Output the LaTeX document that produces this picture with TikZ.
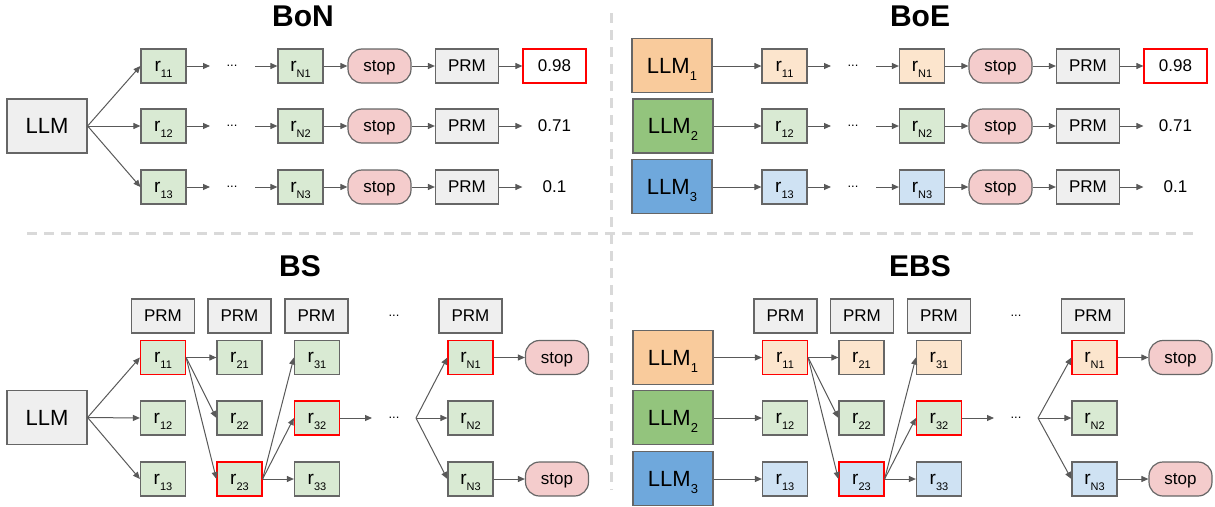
\documentclass[tikz,border=0pt]{standalone}
\usepackage{fontspec}
\setmainfont{Liberation Sans}
\usetikzlibrary{arrows.meta}
\definecolor{bord}{HTML}{666666}
\definecolor{arrc}{HTML}{595959}
\definecolor{gfill}{HTML}{D9EAD3}
\definecolor{ofill}{HTML}{FCE5CD}
\definecolor{bfill}{HTML}{CFE2F3}
\definecolor{lone}{HTML}{F9CB9C}
\definecolor{ltwo}{HTML}{93C47D}
\definecolor{lthree}{HTML}{6FA8DC}
\definecolor{sfill}{HTML}{F4CCCC}
\definecolor{pfill}{HTML}{EFEFEF}
\definecolor{redb}{HTML}{FF0000}
\definecolor{dashc}{HTML}{D9D9D9}
\newcommand{\rsub}[1]{r\smash{\raisebox{-6pt}{\fontsize{11}{11}\selectfont #1}}}
\newcommand{\llmsub}[1]{LLM\smash{\raisebox{-7pt}{\fontsize{13}{13}\selectfont #1}}}
\begin{document}
\begin{tikzpicture}[x=1pt,y=-1pt,
  box/.style={draw=bord, line width=1.2pt, inner sep=0pt, anchor=center},
  rbox/.style={box, minimum width=45pt, minimum height=34pt, font=\fontsize{19}{20}\selectfont},
  rg/.style={rbox, fill=gfill},
  ro/.style={rbox, fill=ofill},
  rb/.style={rbox, fill=bfill},
  redb/.style={draw=redb},
  prm/.style={box, fill=pfill, minimum width=63pt, minimum height=34pt, font=\fontsize{17}{18}\selectfont},
  stopn/.style={box, fill=sfill, minimum width=63pt, minimum height=34pt, rounded corners=14pt, text depth=0pt, font=\fontsize{17}{18}\selectfont},
  llm/.style={box, minimum width=80pt, minimum height=54pt, font=\fontsize{22}{24}\selectfont},
  score/.style={inner sep=0pt, minimum width=63pt, minimum height=34pt, line width=1.2pt, font=\fontsize{17}{18}\selectfont},
  dots/.style={inner sep=0pt, font=\fontsize{13}{14}\selectfont},
  ttl/.style={inner sep=0pt, font=\fontsize{30}{34}\selectfont\bfseries},
  arr/.style={draw=arrc, line width=1pt, -{Triangle[length=7pt,width=6pt]}},
  sep/.style={draw=dashc, line width=3pt, dash pattern=on 10pt off 7pt}
]
\useasboundingbox (0,0) rectangle (1215,506);

% separators
\draw[sep] (27,233.5) -- (1193,233.5);
\draw[sep] (611.7,13) -- (611.7,490);

% ===== BoN =====
\node[ttl] (tbon) at (303,16) {BoN};
\node[llm, fill=pfill] (nL) at (47,126) {LLM};
\foreach \i/\y in {1/66,2/126,3/187} {
  \node[rg] (n1\i) at (163.5,\y) {\rsub{1\i}};
  \coordinate (na\i) at (210,\y);
  \node[dots] (nd\i) at (232,\y) {...};
  \coordinate (nb\i) at (255,\y);
  \node[rg] (nN\i) at (300.5,\y) {\rsub{N\i}};
  \node[stopn] (ns\i) at (379.5,\y) {stop};
  \node[prm] (np\i) at (467,\y) {PRM};
  \draw[arr] (nL.east) -- (n1\i.west);
  \draw[arr] (n1\i.east) -- (na\i);
  \draw[arr] (nb\i) -- (nN\i.west);
  \draw[arr] (nN\i.east) -- (ns\i.west);
  \draw[arr] (ns\i.east) -- (np\i.west);
}
\node[score, draw=redb] (nv1) at (554.5,66) {0.98};
\node[score] (nv2) at (554.5,126) {0.71};
\node[score] (nv3) at (554.5,187) {0.1};
\draw[arr] (np1.east) -- (nv1.west);
\draw[arr] (np2.east) -- (nv2.west);
\draw[arr] (np3.east) -- (nv3.west);

% ===== BoE =====
\node[ttl] (tboe) at (920,16) {BoE};
\node[llm, fill=lone] (eL1) at (672,65.5) {\llmsub{1}};
\node[llm, fill=ltwo] (eL2) at (673,126) {\llmsub{2}};
\node[llm, fill=lthree] (eL3) at (672,186.5) {\llmsub{3}};
\foreach \i/\y/\c in {1/66/ofill,2/126/gfill,3/187/bfill} {
  \node[rbox, fill=\c] (e1\i) at (784.5,\y) {\rsub{1\i}};
  \coordinate (ea\i) at (831,\y);
  \node[dots] (ed\i) at (853,\y) {...};
  \coordinate (eb\i) at (876,\y);
  \node[rbox, fill=\c] (eN\i) at (922,\y) {\rsub{N\i}};
  \node[stopn] (es\i) at (1000.5,\y) {stop};
  \node[prm] (ep\i) at (1088,\y) {PRM};
  \draw[arr] (eL\i.east |- e1\i.west) -- (e1\i.west);
  \draw[arr] (e1\i.east) -- (ea\i);
  \draw[arr] (eb\i) -- (eN\i.west);
  \draw[arr] (eN\i.east) -- (es\i.west);
  \draw[arr] (es\i.east) -- (ep\i.west);
}
\node[score, draw=redb] (ev1) at (1175.5,66) {0.98};
\node[score] (ev2) at (1175.5,126) {0.71};
\node[score] (ev3) at (1175.5,187) {0.1};
\draw[arr] (ep1.east) -- (ev1.west);
\draw[arr] (ep2.east) -- (ev2.west);
\draw[arr] (ep3.east) -- (ev3.west);

% ===== BS =====
\node[ttl] (tbs) at (300,266) {BS};
\node[prm] (bp1) at (163,316) {PRM};
\node[prm] (bp2) at (239.5,316) {PRM};
\node[prm] (bp3) at (316.5,316) {PRM};
\node[dots] (bpd) at (394,316) {...};
\node[prm] (bpN) at (470.5,316) {PRM};
\node[llm, fill=pfill] (bL) at (47,417.5) {LLM};
\node[rg, redb] (b11) at (163,357.5) {\rsub{11}};
\node[rg] (b12) at (163,418) {\rsub{12}};
\node[rg] (b13) at (163,479) {\rsub{13}};
\node[rg] (b21) at (239.5,357.5) {\rsub{21}};
\node[rg] (b22) at (239.5,418) {\rsub{22}};
\node[rg, redb] (b23) at (239.5,479) {\rsub{23}};
\node[rg] (b31) at (317,357.5) {\rsub{31}};
\node[rg, redb] (b32) at (317,418) {\rsub{32}};
\node[rg] (b33) at (317,479) {\rsub{33}};
\coordinate (ba) at (372,418);
\node[dots] (bd) at (394,418) {...};
\coordinate (bb) at (416,418);
\node[rg, redb] (bN1) at (470.5,357.5) {\rsub{N1}};
\node[rg] (bN2) at (470.5,418) {\rsub{N2}};
\node[rg] (bN3) at (470.5,479) {\rsub{N3}};
\node[stopn] (bs1) at (557,357.5) {stop};
\node[stopn] (bs3) at (557,479) {stop};
\foreach \t in {b11,b12,b13} \draw[arr] (bL.east) -- (\t.west);
\foreach \t in {b21,b22,b23} \draw[arr] (b11.east) -- (\t.west);
\foreach \t in {b31,b32,b33} \draw[arr] (b23.east) -- (\t.west);
\draw[arr] (b32.east) -- (ba);
\foreach \t in {bN1,bN2,bN3} \draw[arr] (bb) -- (\t.west);
\draw[arr] (bN1.east) -- (bs1.west);
\draw[arr] (bN3.east) -- (bs3.west);

% ===== EBS =====
\node[ttl] (tebs) at (920,266) {EBS};
\node[prm] (xp1) at (785.5,316) {PRM};
\node[prm] (xp2) at (862,316) {PRM};
\node[prm] (xp3) at (939,316) {PRM};
\node[dots] (xpd) at (1016,316) {...};
\node[prm] (xpN) at (1093,316) {PRM};
\node[llm, fill=lone] (xL1) at (673,357.5) {\llmsub{1}};
\node[llm, fill=ltwo] (xL2) at (673,417.5) {\llmsub{2}};
\node[llm, fill=lthree] (xL3) at (673,478.5) {\llmsub{3}};
\node[ro, redb] (x11) at (785,357.5) {\rsub{11}};
\node[rg] (x12) at (785,418) {\rsub{12}};
\node[rb] (x13) at (785,479) {\rsub{13}};
\node[ro] (x21) at (861.5,357.5) {\rsub{21}};
\node[rg] (x22) at (861.5,418) {\rsub{22}};
\node[rb, redb] (x23) at (861.5,479) {\rsub{23}};
\node[ro] (x31) at (939,357.5) {\rsub{31}};
\node[rg, redb] (x32) at (939,418) {\rsub{32}};
\node[rb] (x33) at (939,479) {\rsub{33}};
\coordinate (xa) at (994,418);
\node[dots] (xd) at (1016,418) {...};
\coordinate (xb) at (1038,418);
\node[ro, redb] (xN1) at (1094.5,357.5) {\rsub{N1}};
\node[rg] (xN2) at (1094.5,418) {\rsub{N2}};
\node[rb] (xN3) at (1094.5,479) {\rsub{N3}};
\node[stopn] (xs1) at (1180.5,357.5) {stop};
\node[stopn] (xs3) at (1180.5,479) {stop};
\draw[arr] (xL1.east |- x11.west) -- (x11.west);
\draw[arr] (xL2.east |- x12.west) -- (x12.west);
\draw[arr] (xL3.east |- x13.west) -- (x13.west);
\foreach \t in {x21,x22,x23} \draw[arr] (x11.east) -- (\t.west);
\foreach \t in {x31,x32,x33} \draw[arr] (x23.east) -- (\t.west);
\draw[arr] (x32.east) -- (xa);
\foreach \t in {xN1,xN2,xN3} \draw[arr] (xb) -- (\t.west);
\draw[arr] (xN1.east) -- (xs1.west);
\draw[arr] (xN3.east) -- (xs3.west);
\end{tikzpicture}
\end{document}
